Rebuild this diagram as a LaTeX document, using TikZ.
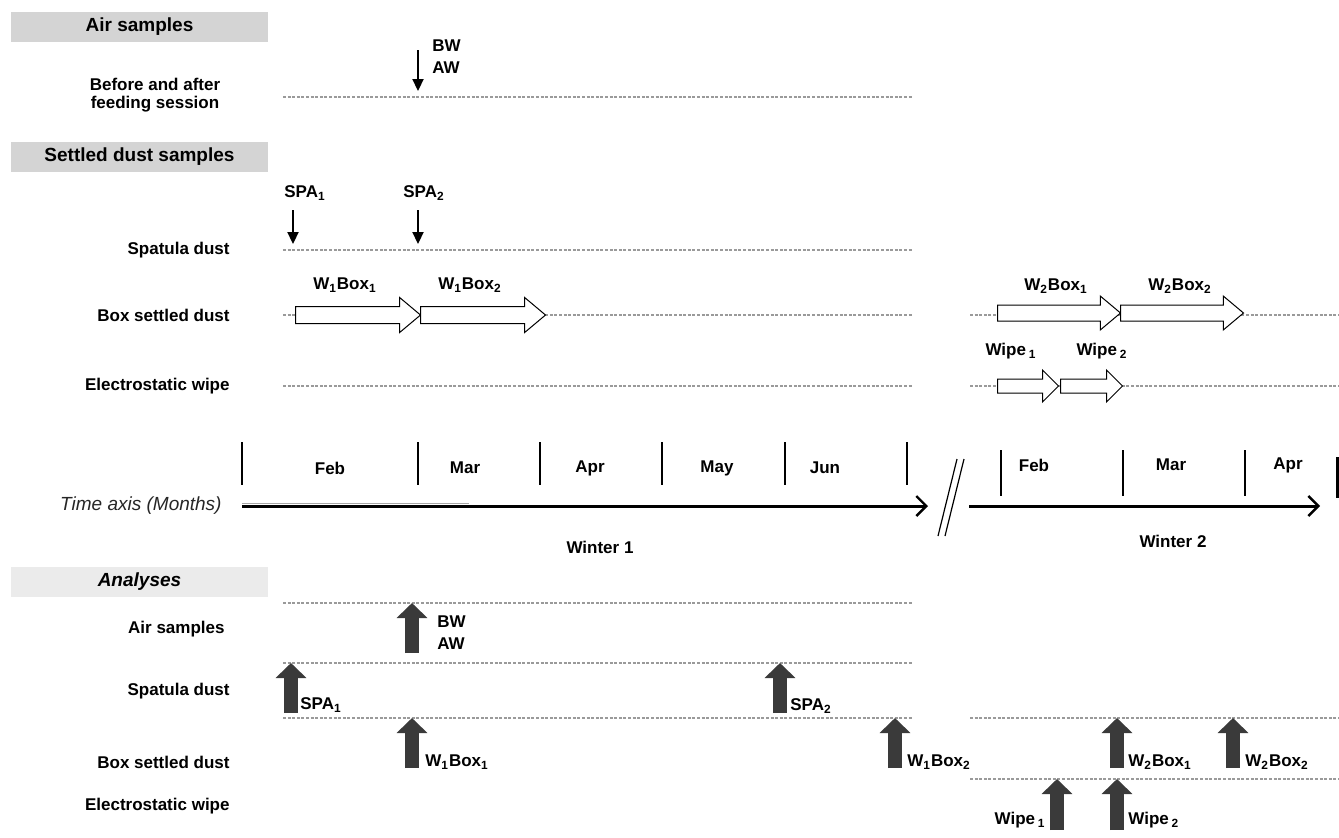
\documentclass[tikz,border=0pt]{standalone}
\usepackage{fontspec}
\setmainfont{Liberation Sans}
\usetikzlibrary{arrows.meta, positioning, shapes.arrows}
\definecolor{hdrgray}{HTML}{D4D4D4}
\definecolor{anagray}{HTML}{EBEBEB}
\definecolor{dotgray}{HTML}{9A9A9A}
\definecolor{arrgray}{HTML}{3A3A3A}

\begin{document}
\begin{tikzpicture}[
  x=0.5pt, y=-0.5pt,
  hdr/.style={fill=hdrgray, minimum width=128.5pt, minimum height=15pt, inner sep=0pt,
    font=\fontsize{9.5}{11}\selectfont\bfseries},
  lbl/.style={font=\fontsize{8.5}{11}\selectfont\bfseries, inner sep=0pt},
  row/.style={lbl, anchor=east},
  guide/.style={draw=dotgray, line width=0.6pt, dash pattern=on 1.5pt off 0.8pt},
  drop/.style={-{Triangle[length=6pt, width=5.5pt]}, line width=1.1pt},
  lift/.style={draw=arrgray, line width=7pt, -{Triangle[width=15pt, length=7.5pt]}},
  hollow/.style={single arrow, draw, fill=white, line width=0.5pt, inner sep=0pt, anchor=tail,
    single arrow head extend=4.5pt, single arrow tip angle=80},
  tick/.style={line width=1pt},
  axis/.style={line width=1.5pt, -{Straight Barb[length=5pt, width=10pt, line width=1.2pt]}}
]
\useasboundingbox (0,0) rectangle (1339,837);

% section headers
\node[hdr] (hair) at (139.5,27) {Air samples};
\node[hdr] (hdust) at (139.5,156.5) {Settled dust samples};
\node[hdr, fill=anagray, font=\fontsize{9.5}{11}\selectfont\bfseries\itshape] (hana) at (139.5,582) {Analyses};

% sampling rows
\node[lbl, align=center, font=\fontsize{8.5}{9}\selectfont\bfseries] (lsess) at (155,95) {Before and after\\feeding session};
\node[row] (lspa) at (230,250) {Spatula dust};
\node[row] (lbox) at (230,315) {Box settled dust};
\node[row] (lwipe) at (230,386) {Electrostatic wipe};

\foreach \y in {97,250,315,386,603,663,718}
  \draw[guide] (283,\y) -- (912,\y);
\foreach \y in {315,386,718,779}
  \draw[guide] (970,\y) -- (1339,\y);

\foreach \n/\x/\ya/\yb in {bw/418/50/91, spa1/293/210/244, spa2/418/210/244}{
  \coordinate (\n-top) at (\x,\ya);
  \coordinate (\n-end) at (\x,\yb);
  \draw[drop] (\n-top) -- (\n-end);
}
\node[lbl, anchor=west, align=left] (tbw) at (432,57) {BW\\AW};
\node[lbl] (tspa1) at (305,193) {SPA\textsubscript{1}};
\node[lbl] (tspa2) at (424,193) {SPA\textsubscript{2}};

% box and wipe periods
\node[hollow, minimum height=62.5pt] (wb11) at (295,315) {\rule{0pt}{8pt}};
\node[hollow, minimum height=62.5pt] (wb12) at (420,315) {\rule{0pt}{8pt}};
\node[hollow, minimum height=61.5pt] (wb21) at (997,313) {\rule{0pt}{7.5pt}};
\node[hollow, minimum height=61.5pt] (wb22) at (1120,313) {\rule{0pt}{7.5pt}};
\node[hollow, minimum height=30.5pt, single arrow head extend=4.5pt,
  single arrow tip angle=90] (wp1) at (997,386) {\rule{0pt}{6.5pt}};
\node[hollow, minimum height=31pt, single arrow head extend=4.5pt,
  single arrow tip angle=90] (wp2) at (1060,386) {\rule{0pt}{6.5pt}};
\node[lbl] at (345,285) {W\textsubscript{1}Box\textsubscript{1}};
\node[lbl] at (470,285) {W\textsubscript{1}Box\textsubscript{2}};
\node[lbl] at (1056,286) {W\textsubscript{2}Box\textsubscript{1}};
\node[lbl] at (1180,286) {W\textsubscript{2}Box\textsubscript{2}};
\node[lbl] at (1011,351) {Wipe\,\textsubscript{1}};
\node[lbl] at (1102,351) {Wipe\,\textsubscript{2}};

% time axis
\foreach \x in {242,418,540,662,785,907}
  \draw[tick] (\x,442) -- (\x,485);
\foreach \x/\m in {330/Feb,465/Mar,590/Apr,717/May,825/Jun}
  \node[lbl] at (\x,468) {\m};
\foreach \x in {1001,1123,1245}
  \draw[tick] (\x,450) -- (\x,496);
\draw[line width=1.5pt] (1337,457) -- (1337,498);
\foreach \x/\m in {1034/Feb,1171/Mar,1288/Apr}
  \node[lbl] at (\x,465) {\m};

\coordinate (t0) at (242,506);
\coordinate (t1) at (928,506);
\coordinate (t2) at (969,506);
\coordinate (t3) at (1320,506);
\draw[axis] (t0) -- (t1);
\draw[axis] (t2) -- (t3);
\draw[gray!70, line width=0.7pt] (242,503.5) -- (469,503.5);
\draw[line width=0.6pt] (938,536) -- (957,459) (945,536) -- (964,459);

\node[font=\fontsize{9.5}{11}\selectfont\itshape, text=black!85, anchor=east, inner sep=0pt] (ltime) at (222,506) {Time axis (Months)};
\node[lbl] (w1) at (600,547) {Winter 1};
\node[lbl] (w2) at (1173,541) {Winter 2};

% analyses rows
\node[row] (aair) at (225,629) {Air samples};
\node[row] (aspa) at (230,691) {Spatula dust};
\node[row] (abox) at (230,762) {Box settled dust};
\node[row] (awipe) at (230,806) {Electrostatic wipe};

\foreach \n/\x/\ya/\yb in {abw/412/653/603, aspa1/291/713/663, aspa2/780/713/663,
    aw1b1/412/768/718, aw1b2/895/768/718, aw2b1/1117/768/718, aw2b2/1233/768/718,
    awp1/1057/830/779, awp2/1117/830/779}{
  \coordinate (\n-base) at (\x,\ya);
  \coordinate (\n-head) at (\x,\yb);
  \draw[lift] (\n-base) -- (\n-head);
}
\node[lbl, anchor=west, align=left] at (437,633) {BW\\AW};
\node[lbl, anchor=west] at (300,705) {SPA\textsubscript{1}};
\node[lbl, anchor=west] at (790,706) {SPA\textsubscript{2}};
\node[lbl, anchor=west] at (425,762) {W\textsubscript{1}Box\textsubscript{1}};
\node[lbl, anchor=west] at (907,762) {W\textsubscript{1}Box\textsubscript{2}};
\node[lbl, anchor=west] at (1128,762) {W\textsubscript{2}Box\textsubscript{1}};
\node[lbl, anchor=west] at (1245,762) {W\textsubscript{2}Box\textsubscript{2}};
\node[lbl, anchor=east] at (1046,820) {Wipe\,\textsubscript{1}};
\node[lbl, anchor=west] at (1128,820) {Wipe\,\textsubscript{2}};
\end{tikzpicture}
\end{document}
